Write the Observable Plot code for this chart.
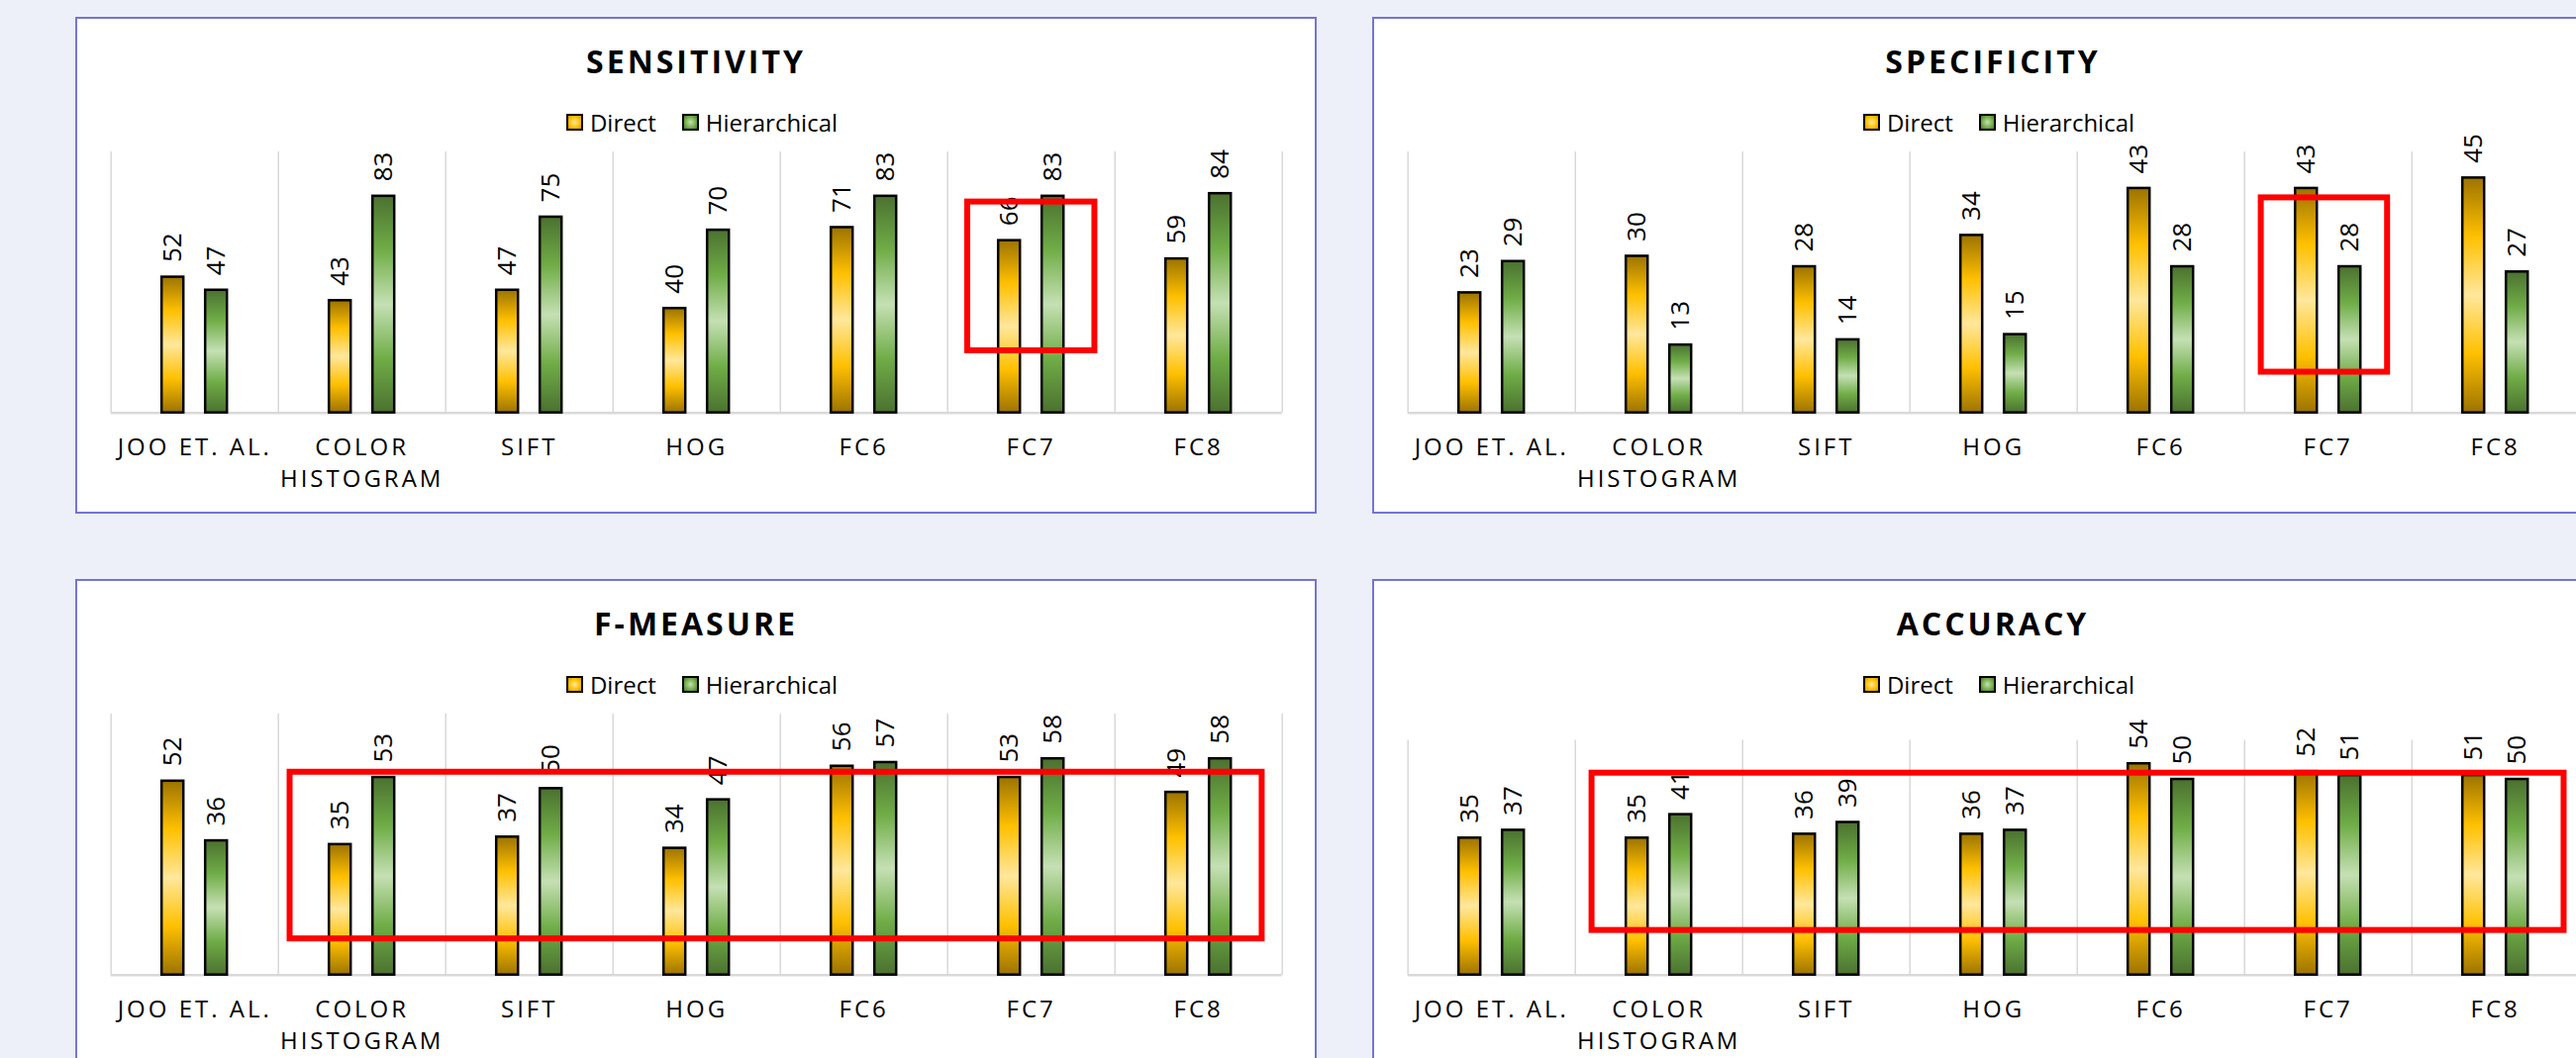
<!DOCTYPE html>
<html>
<head>
<meta charset="utf-8">
<script src="https://cdn.jsdelivr.net/npm/d3@7"></script>
<script src="https://cdn.jsdelivr.net/npm/@observablehq/plot@0.6"></script>
<style>
html, body { margin: 0; padding: 0; }
body { width: 2602px; height: 1069px; overflow: hidden; background: #EDF0F9; position: relative; font-family: "Open Sans", sans-serif; }
.panel { position: absolute; width: 1254px; height: 502px; box-sizing: border-box; border: 2px solid #7474D6; background: #fff; }
.title { position: absolute; left: 0; right: 0; top: 0; height: 86px; line-height: 86px; text-align: center; font-weight: 700; font-size: 32px; letter-spacing: 3px; color: #000; }
.legend { position: absolute; left: 0; right: 0; top: 87px; height: 35px; display: flex; justify-content: center; align-items: center; font-size: 24px; color: #000; padding-left: 12px; z-index: 2; }
.item { display: flex; align-items: center; margin: 0 13px; }
.sw { width: 17px; height: 17px; box-sizing: border-box; border: 2px solid #000; margin-right: 7px; }
.sw.direct { background: radial-gradient(circle, #FFE79C 0%, #FFC000 60%, #C99400 100%); }
.sw.hier { background: radial-gradient(circle, #C5E0B4 0%, #70AD47 60%, #4B7130 100%); }
.chart { position: absolute; left: 0; top: 106px; }
</style>
</head>
<body>
<svg width="0" height="0" style="position:absolute">
  <defs>
    <linearGradient id="goldGrad" x1="0" y1="0" x2="0" y2="1">
      <stop offset="0" stop-color="#9C7300"/>
      <stop offset="0.25" stop-color="#FFC000"/>
      <stop offset="0.5" stop-color="#FFE79C"/>
      <stop offset="0.75" stop-color="#FFC000"/>
      <stop offset="1" stop-color="#9C7300"/>
    </linearGradient>
    <linearGradient id="greenGrad" x1="0" y1="0" x2="0" y2="1">
      <stop offset="0" stop-color="#4B7130"/>
      <stop offset="0.25" stop-color="#70AD47"/>
      <stop offset="0.5" stop-color="#C5E0B4"/>
      <stop offset="0.75" stop-color="#70AD47"/>
      <stop offset="1" stop-color="#4B7130"/>
    </linearGradient>
  </defs>
</svg>
<script>
// ---- data ----
const categories = ["JOO ET. AL.", "COLOR\nHISTOGRAM", "SIFT", "HOG", "FC6", "FC7", "FC8"];
const seriesNames = ["Direct", "Hierarchical"];

const sensitivityDirect = [52, 43, 47, 40, 71, 66, 59];
const sensitivityHier   = [47, 83, 75, 70, 83, 83, 84];
const specificityDirect = [23, 30, 28, 34, 43, 43, 45];
const specificityHier   = [29, 13, 14, 15, 28, 28, 27];
const fmeasureDirect    = [52, 35, 37, 34, 56, 53, 49];
const fmeasureHier      = [36, 53, 50, 47, 57, 58, 58];
const accuracyDirect    = [35, 35, 36, 36, 54, 52, 51];
const accuracyHier      = [37, 41, 39, 37, 50, 51, 50];

// value-axis maxima of each chart
const yMaxima = [100, 50, 70, 60];
const titles = ["SENSITIVITY", "SPECIFICITY", "F-MEASURE", "ACCURACY"];

// highlight boxes: category-index range and value range
const sensitivityBox = {from: 5.12, to: 5.88, low: 23.8, high: 80.8};
const specificityBox = {from: 5.10, to: 5.855, low: 7.8, high: 41.2};
const fmeasureBox    = {from: 1.07, to: 6.88, low: 9.7, high: 54.4};
const accuracyBox    = {from: 1.10, to: 6.91, low: 11.4, high: 51.6};

// ---- layout ----
const panels = [
  {title: titles[0], direct: sensitivityDirect, hier: sensitivityHier, yMax: yMaxima[0], box: sensitivityBox, left: 76, top: 17, extraTop: 0},
  {title: titles[1], direct: specificityDirect, hier: specificityHier, yMax: yMaxima[1], box: specificityBox, left: 1386, top: 17, extraTop: 0},
  {title: titles[2], direct: fmeasureDirect, hier: fmeasureHier, yMax: yMaxima[2], box: fmeasureBox, left: 76, top: 585, extraTop: 0},
  {title: titles[3], direct: accuracyDirect, hier: accuracyHier, yMax: yMaxima[3], box: accuracyBox, left: 1386, top: 585, extraTop: 26.5}
];

const W = 1250, H = 392, ML = 33.7, MR = 33.3, MB = 100.3;
const band = (W - ML - MR) / categories.length;
const barW = 22, off = 22;
const dInsetL = band / 2 - off - barW / 2, dInsetR = band - dInsetL - barW;

for (const p of panels) {
  const panel = document.createElement("div");
  panel.className = "panel";
  panel.style.left = p.left + "px";
  panel.style.top = p.top + "px";
  document.body.appendChild(panel);

  const t = document.createElement("div");
  t.className = "title";
  t.textContent = p.title;
  panel.appendChild(t);

  const lg = document.createElement("div");
  lg.className = "legend";
  lg.innerHTML = `<div class="item"><div class="sw direct"></div>${seriesNames[0]}</div><div class="item"><div class="sw hier"></div>${seriesNames[1]}</div>`;
  panel.appendChild(lg);

  const idx = categories.map((_, i) => i);
  const boundaries = d3.range(categories.length + 1);

  const svg = Plot.plot({
    width: W, height: H,
    marginLeft: ML, marginRight: MR, marginTop: 28 + p.extraTop, marginBottom: MB,
    style: {fontFamily: "'Open Sans', sans-serif", background: "transparent", overflow: "visible", color: "#000"},
    x: {type: "linear", domain: [0, categories.length], axis: null},
    y: {domain: [0, p.yMax], axis: null},
    marks: [
      Plot.ruleX(boundaries, {x: d => d, stroke: "#D9D9D9", strokeWidth: 1.5}),
      Plot.ruleY([0], {stroke: "#D9D9D9", strokeWidth: 2.5}),
      Plot.rectY(idx, {x1: i => i, x2: i => i + 1, y: i => p.direct[i], insetLeft: dInsetL, insetRight: dInsetR, fill: "url(#goldGrad)", stroke: "#000", strokeWidth: 2.5}),
      Plot.rectY(idx, {x1: i => i, x2: i => i + 1, y: i => p.hier[i], insetLeft: dInsetR, insetRight: dInsetL, fill: "url(#greenGrad)", stroke: "#000", strokeWidth: 2.5}),
      Plot.text(idx, {x: i => i + 0.5, y: i => p.direct[i], text: i => String(p.direct[i]), rotate: -90, textAnchor: "start", dx: -off, dy: -15, fontSize: 26, fill: "#000"}),
      Plot.text(idx, {x: i => i + 0.5, y: i => p.hier[i], text: i => String(p.hier[i]), rotate: -90, textAnchor: "start", dx: off, dy: -15, fontSize: 26, fill: "#000"}),
      Plot.text(categories, {x: (d, i) => i + 0.5, text: d => d, frameAnchor: "bottom", lineAnchor: "top", dy: 21, lineHeight: 1.3, fontSize: 24, fill: "#000"}),
      Plot.rect([p.box], {x1: "from", x2: "to", y1: "low", y2: "high", fill: "none", stroke: "#FF0000", strokeWidth: 6})
    ]
  });
  d3.select(svg).selectAll("text").filter(function() { return /[A-Z]/.test(this.textContent); }).attr("letter-spacing", "3px");
  svg.classList.add("chart");
  panel.appendChild(svg);
}
</script>
</body>
</html>
